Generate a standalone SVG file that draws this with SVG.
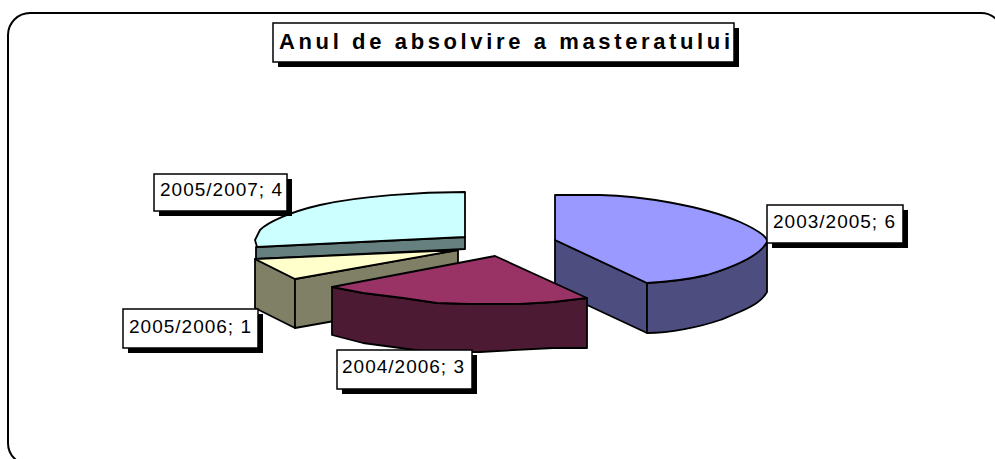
<svg xmlns="http://www.w3.org/2000/svg" width="995" height="459" viewBox="0 0 995 459">
<style>
  .box{fill:#fff;stroke:#000;stroke-width:1.5}
  .sh{fill:#000}
  .lbl{font-family:"Liberation Sans",Arial,sans-serif;font-size:19px;fill:#000}
  .ttl{font-family:"Liberation Sans",Arial,sans-serif;font-size:22px;font-weight:bold;fill:#000}
  .e{stroke:#000;stroke-width:1.8;stroke-linejoin:round}
</style>
<rect x="8" y="13" width="995" height="452" rx="22" ry="22" fill="#fff" stroke="#000" stroke-width="2"/>

<g id="title">
  <rect class="sh" x="278" y="28" width="461" height="39"/>
  <rect class="box" x="273" y="23" width="461" height="39"/>
  <text class="ttl" x="279" y="49" textLength="451" lengthAdjust="spacing">Anul de absolvire a masteratului</text>
</g>

<g id="slice-2005-2007">
  <path class="e" fill="#668080" d="M256,247 L465,237 L465,249 L256,259 Z"/>
  <path class="e" fill="#CCFFFF" d="M465,192 C420,192 360,196 320,205 C290,212 268,222 260,230 L255,240 L257,247 L465,237 Z"/>
</g>

<g id="slice-2005-2006">
  <path class="e" fill="#808066" d="M255,259 L295,279 L295,328 L255,308 Z"/>
  <path class="e" fill="#808066" d="M295,279 L458,250 L458,299 L295,328 Z"/>
  <path class="e" fill="#FFFFCC" d="M255,259 L458,250 L295,279 Z"/>
</g>

<g id="slice-2003-2005">
  <path class="e" fill="#4D4D80" d="M555,240 L647,283 L647,333 L555,290 Z"/>
  <path class="e" fill="#4D4D80" d="M647,283 C665,282 690,279 707,275 C740,265 760,255 767,242 L767,292 C760,305 740,312 720,320 C700,327 670,333 647,333 Z"/>
  <path class="e" fill="#9999FF" d="M555,195 L600,195 C640,196 700,205 740,222 C760,231 768,238 767,242 C760,255 740,265 707,275 C690,279 665,282 647,283 L555,240 Z"/>
</g>

<g id="slice-2004-2006">
  <path class="e" fill="#4D1A33" d="M332,287 L363,293 L403,298 L437,303 L470,304 L520,304 L553,302 L587,298 L587,348 L553,348 L480,352 L430,352 L363,343 L332,335 Z"/>
  <path class="e" fill="#993366" d="M332,287 L495,256 L587,298 L553,302 L520,304 L470,304 L437,303 L403,298 L363,293 Z"/>
</g>

<g id="label-2005-2007">
  <rect class="sh" x="159" y="179" width="133" height="37"/>
  <rect class="box" x="154" y="174" width="133" height="37"/>
  <text class="lbl" x="160" y="196" textLength="122" lengthAdjust="spacing">2005/2007; 4</text>
</g>
<g id="label-2005-2006">
  <rect class="sh" x="128" y="314" width="135" height="39"/>
  <rect class="box" x="123" y="309" width="135" height="39"/>
  <text class="lbl" x="129" y="333" textLength="122" lengthAdjust="spacing">2005/2006; 1</text>
</g>
<g id="label-2004-2006">
  <rect class="sh" x="342" y="355" width="135" height="39"/>
  <rect class="box" x="337" y="350" width="135" height="39"/>
  <text class="lbl" x="342" y="373" textLength="122" lengthAdjust="spacing">2004/2006; 3</text>
</g>
<g id="label-2003-2005">
  <rect class="sh" x="772" y="210" width="136" height="38"/>
  <rect class="box" x="767" y="205" width="136" height="38"/>
  <text class="lbl" x="773" y="228" textLength="122" lengthAdjust="spacing">2003/2005; 6</text>
</g>
</svg>
